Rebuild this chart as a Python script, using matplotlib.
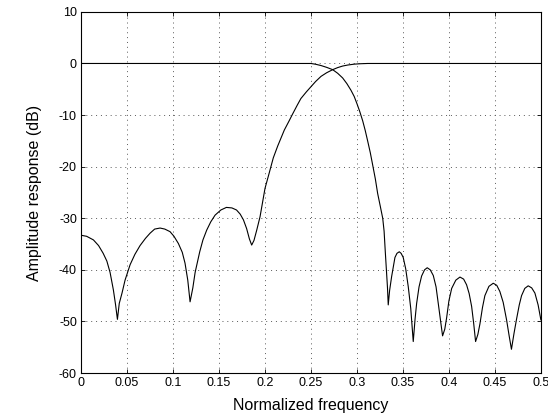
import matplotlib
matplotlib.use('Agg')
import matplotlib.pyplot as plt

plt.rcParams['font.family'] = ['Liberation Sans', 'DejaVu Sans']
plt.rcParams['axes.unicode_minus'] = False

# Lowpass branch (flat passband, then stopband ripples)
lp_f = [0.0, 0.20, 0.25, 0.255, 0.2609, 0.267, 0.2736, 0.279, 0.2844, 0.289,
        0.2935, 0.297, 0.300, 0.303, 0.3062, 0.309, 0.3116, 0.3145, 0.317, 0.320,
        0.3225, 0.3255, 0.328, 0.3295, 0.3308, 0.332, 0.3332, 0.334, 0.3355, 0.3377,
        0.3413, 0.3435, 0.346, 0.348, 0.3503, 0.353, 0.3558, 0.3585, 0.3612, 0.3632,
        0.3649, 0.3675, 0.3703, 0.3735, 0.3764, 0.3797, 0.383, 0.386, 0.3884, 0.391,
        0.3931, 0.3955, 0.3975, 0.400, 0.403, 0.4075, 0.412, 0.416, 0.4192, 0.422,
        0.4247, 0.427, 0.429, 0.4315, 0.4337, 0.4365, 0.4391, 0.4435, 0.4482, 0.452,
        0.4554, 0.459, 0.4627, 0.4655, 0.468, 0.4708, 0.4736, 0.4765, 0.479, 0.4825,
        0.4862, 0.490, 0.4935, 0.497, 0.500]
lp_db = [0.0, 0.0, 0.0, -0.15, -0.4, -0.75, -1.2, -1.9, -2.8, -3.9,
         -5.2, -6.4, -7.8, -9.3, -11.1, -13.0, -15.0, -17.3, -19.6, -22.4,
         -25.2, -27.8, -30.0, -32.5, -36.5, -40.0, -43.5, -46.8, -44.0, -41.3,
         -37.6, -36.8, -36.5, -36.8, -37.6, -39.8, -43.3, -47.5, -53.9, -49.5,
         -46.5, -43.3, -41.2, -40.0, -39.6, -40.0, -41.1, -43.3, -46.5, -50.0,
         -52.8, -51.5, -49.3, -46.0, -43.6, -42.0, -41.4, -41.8, -42.9, -44.6,
         -47.1, -50.5, -53.9, -52.5, -50.5, -47.3, -45.0, -43.2, -42.6, -43.0,
         -44.2, -46.3, -49.7, -52.8, -55.4, -52.3, -49.5, -46.8, -45.0, -43.6,
         -43.1, -43.5, -44.5, -46.8, -49.7]

# Highpass branch (stopband ripples, then rise to 0 dB)
hp_f = [0.0, 0.006, 0.0134, 0.019, 0.024, 0.028, 0.0315, 0.0351, 0.0375, 0.0395,
        0.0415, 0.0445, 0.0478, 0.0533, 0.0585, 0.0641, 0.070, 0.075, 0.080, 0.0859,
        0.091, 0.0967, 0.101, 0.1058, 0.110, 0.113, 0.116, 0.1185, 0.1215, 0.124,
        0.129, 0.1325, 0.1366, 0.141, 0.1457, 0.152, 0.158, 0.164, 0.169, 0.173,
        0.1765, 0.180, 0.183, 0.1855, 0.188, 0.191, 0.1946, 0.200, 0.204, 0.209,
        0.2138, 0.221, 0.226, 0.230, 0.235, 0.239, 0.245, 0.250, 0.255, 0.2609,
        0.267, 0.2736, 0.279, 0.2844, 0.290, 0.2971, 0.304, 0.3116, 0.400, 0.500]
hp_db = [-33.3, -33.5, -34.2, -35.3, -36.8, -38.3, -40.5, -43.9, -46.8, -49.6,
         -46.5, -44.5, -42.0, -39.0, -37.0, -35.3, -33.9, -32.9, -32.1, -31.9,
         -32.1, -32.6, -33.5, -34.9, -36.6, -38.7, -42.0, -46.2, -43.5, -40.5,
         -36.5, -34.2, -32.3, -30.7, -29.4, -28.4, -27.9, -28.0, -28.4, -29.2,
         -30.3, -32.0, -34.0, -35.2, -34.3, -32.3, -29.7, -24.2, -21.6, -18.3,
         -16.0, -12.9, -11.2, -9.8, -8.1, -6.8, -5.5, -4.5, -3.5, -2.5,
         -1.8, -1.2, -0.8, -0.5, -0.3, -0.13, -0.05, 0.0, 0.0, 0.0]

fig = plt.figure(figsize=(5.48, 4.17), dpi=100)
ax = fig.add_axes([0.148, 0.1055, 0.839, 0.866])

ax.plot(lp_f, lp_db, color='black', linewidth=0.8)
ax.plot(hp_f, hp_db, color='black', linewidth=0.8)

ax.set_xlim(0, 0.5)
ax.set_ylim(-60, 10)
ax.set_xticks([0, 0.05, 0.1, 0.15, 0.2, 0.25, 0.3, 0.35, 0.4, 0.45, 0.5])
ax.set_xticklabels(['0', '0.05', '0.1', '0.15', '0.2', '0.25', '0.3', '0.35',
                    '0.4', '0.45', '0.5'])
ax.set_yticks([-60, -50, -40, -30, -20, -10, 0, 10])
ax.tick_params(direction='in', top=True, right=True, labelsize=9, length=3,
               width=0.6, pad=3)
ax.grid(True, linestyle=(0, (1, 4)), color='0.35', linewidth=0.7)
for s in ax.spines.values():
    s.set_linewidth(0.8)

ax.set_xlabel('Normalized frequency', fontsize=11.5, labelpad=6)
ax.set_ylabel('Amplitude response (dB)', fontsize=11.5, labelpad=12)

fig.savefig('out.png', dpi=100)
